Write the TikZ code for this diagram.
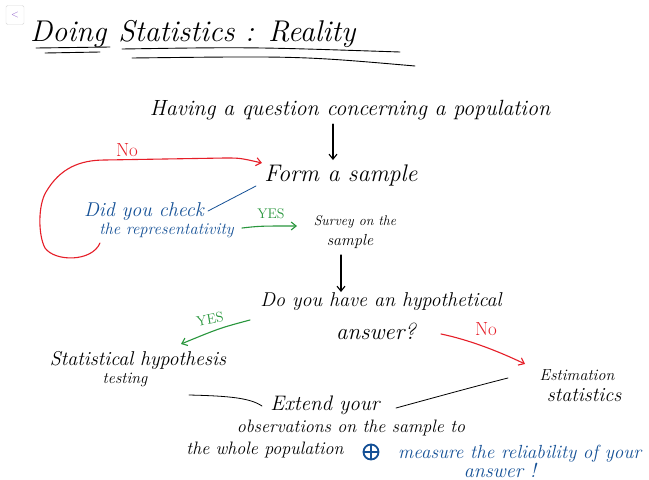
\documentclass[tikz,border=0pt]{standalone}
\usepackage{fontspec}
\usetikzlibrary{arrows.meta}
\definecolor{hblue}{RGB}{20,80,150}
\definecolor{hred}{RGB}{230,30,40}
\definecolor{hgreen}{RGB}{40,150,60}
\definecolor{uipurple}{RGB}{140,90,200}
\newcommand{\fs}[1]{\fontsize{#1}{#1}\selectfont}
\begin{document}
\begin{tikzpicture}[x=1pt,y=-1pt,
  hand/.style={font=\itshape, inner sep=0pt, align=center},
  bluetext/.style={hand, text=hblue},
  lab/.style={inner sep=0pt},
  ink/.style={line width=1.1pt, line cap=round, line join=round},
  tip/.style={-{Straight Barb[length=5pt,width=8pt]}}
]
\useasboundingbox (0,0) rectangle (649,480);
\fill[white] (0,0) rectangle (649,480);
% UI button
\node[draw=black!15, rounded corners=1.5pt, minimum width=18pt, minimum height=19pt, inner sep=0pt, text=uipurple, font=\fs{10}] (ui) at (15,15) {$<$};
% title
\node[font=\fs{30}\itshape, anchor=base west, inner sep=0pt] (title) at (30,41) {Doing\hspace{12pt}Statistics : Reality};
\draw[ink, line width=0.9pt] (36,48) -- (110,47);
\draw[ink, line width=0.9pt] (45,53) -- (100,52);
\draw[ink, line width=0.9pt] (122,49) .. controls (250,47) .. (400,52);
\draw[ink, line width=0.9pt] (132,58) .. controls (300,56) .. (415,66);
% main nodes
\node[hand, font=\fs{22}\itshape] (q) at (350,110) {Having a question concerning a population};
\node[hand, font=\fs{24}\itshape] (form) at (341,175) {Form a sample};
\node[bluetext] (check) at (144,220) {\fs{20}Did you check\\[1pt]\hspace*{45pt}\fs{16.5}the representativity};
\node[hand, font=\fs{14}\itshape] (survey) at (355,232) {Survey on the\\[6pt]\hspace*{-10pt}\fs{16}sample};
\node[hand, font=\fs{20}\itshape] (hyp) at (381,302) {Do you have an hypothetical};
\node[hand, font=\fs{23}\itshape] (hyp2) at (376,331) {answer?};
\node[hand] (test) at (138,369) {\fs{20}Statistical hypothesis\\[3pt]\hspace*{-26pt}\fs{16}testing};
\node[hand] (est) at (577,386) {\fs{16}Estimation\\[7pt]\hspace*{14pt}\fs{20}statistics};
\node[hand, font=\fs{21}\itshape] (ext) at (325,405) {Extend your};
\node[hand, font=\fs{18}\itshape] (ext2) at (351,428) {observations on the sample to};
\node[hand, font=\fs{18}\itshape] (ext3) at (265,450) {the whole population};
\node[circle, draw=hblue, line width=1.8pt, minimum size=15pt, inner sep=0pt] (plus) at (371,452) {};
\draw[hblue, line width=1.6pt] (plus.north) -- (plus.south) (plus.west) -- (plus.east);
\node[bluetext, font=\fs{19}\itshape, anchor=west] (meas) at (398,454) {measure the reliability of your};
\node[bluetext, font=\fs{20}\itshape] (meas2) at (500,470) {answer !};
% black arrows
\draw[ink, tip] (q.south -| 333,0) ++(0,4) -- (333,160);
\draw[ink, tip] (341,255) -- (341,292);
% check connector
\draw[hblue, ink, line width=0.8pt] (256,186) coordinate (f1) -- (208,211) coordinate (c1);
% red loop
\coordinate (r0) at (100,243);
\coordinate (fin) at (262,163);
\draw[hred, ink, tip] (r0) .. controls (92,262) and (55,262) .. (45,248)
  .. controls (38,235) and (38,205) .. (46,192)
  .. controls (60,168) and (80,160) .. (105,160)
  -- (225,158) .. controls (240,158) .. (fin);
\node[lab, text=hred, font=\fs{19}] (no1) at (127,150) {No};
% green yes 1
\draw[hgreen, ink, tip] (242,228) .. controls (260,226) .. (297,226);
\node[lab, text=hgreen, font=\fs{14}] (yes1) at (271,214) {YES};
% green yes 2
\draw[hgreen, ink, tip] (250,320) .. controls (220,328) .. (181,344);
\node[lab, text=hgreen, font=\fs{14}, rotate=10] (yes2) at (210,319) {YES};
% red no 2
\draw[hred, ink, tip] (441,334) .. controls (470,340) and (500,352) .. (525,364);
\node[lab, text=hred, font=\fs{19}] (no2) at (486,329) {No};
% lines to extend
\draw[ink, line width=0.8pt] (189,395) .. controls (230,396) and (250,398) .. (262,406);
\draw[ink, line width=0.8pt] (396,408) .. controls (440,396) and (480,385) .. (508,378);
\end{tikzpicture}
\end{document}
